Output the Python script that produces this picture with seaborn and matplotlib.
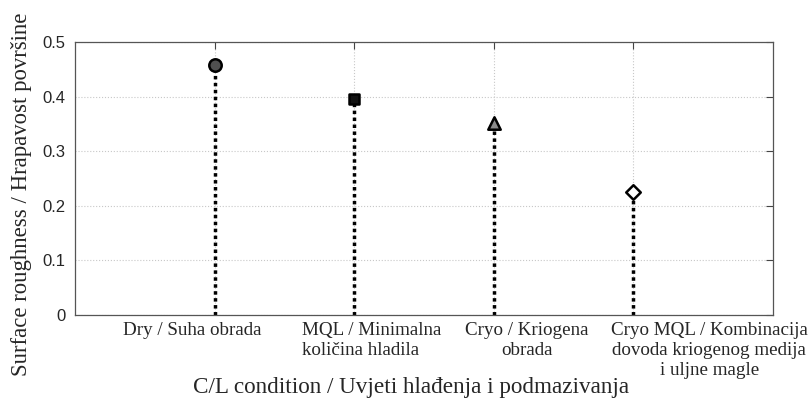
import matplotlib
matplotlib.use('Agg')
import matplotlib.pyplot as plt
import matplotlib.transforms as mtransforms
import pandas as pd
import seaborn as sns

# data
conditions = ['Dry / Suha obrada',
              'MQL / Minimalna\nkoličina hladila',
              'Cryo / Kriogena\nobrada',
              'Cryo MQL / Kombinacija\ndovoda kriogenog medija\ni uljne magle']
roughness = [0.458, 0.395, 0.352, 0.225]
positions = [1, 2, 3, 4]
y_ticks = [0, 0.1, 0.2, 0.3, 0.4, 0.5]
y_tick_labels = ['0', '0.1', '0.2', '0.3', '0.4', '0.5']

df = pd.DataFrame({'pos': positions, 'ra': roughness, 'cond': conditions})

sns.set_style('white')
plt.rcParams['font.family'] = ['Liberation Sans', 'DejaVu Sans']

fig = plt.figure(figsize=(8.12, 4.0), dpi=100)
ax = fig.add_axes([0.0924, 0.2125, 0.8596, 0.6825])

# dotted stems
ax.vlines(df['pos'], 0, df['ra'], colors='black', linestyles=(0, (1, 1)), linewidth=2.5, zorder=2)

markers = {conditions[0]: 'o', conditions[1]: 's', conditions[2]: '^', conditions[3]: 'D'}
fills = ['#505050', '#111111', '#8a8a8a', 'white']
sizes = [80, 58, 80, 55]
for i in range(len(df)):
    sns.scatterplot(x=[df['pos'][i]], y=[df['ra'][i]], marker=markers[conditions[i]],
                    s=sizes[i], color=fills[i], edgecolor='black', linewidth=1.8, ax=ax, zorder=3,
                    legend=False)

ax.set_xlim(0, 5)
ax.set_ylim(0, 0.5)
ax.set_xticks(positions)
ax.set_xticklabels(conditions, family=['Liberation Serif'], fontsize=13.7, linespacing=1.25)
ax.set_yticks(y_ticks)
ax.set_yticklabels(y_tick_labels, fontsize=12)
ax.tick_params(direction='in', length=5, width=0.8, color='#444444', top=True, right=True,
               pad=7)
ax.tick_params(axis='x', pad=5)

# the original tick labels sit off-centre from their ticks
shifts_px = [-22, 17, 33, 76]
align = ['center', 'left', 'center', 'center']
for lab, dx, ma in zip(ax.get_xticklabels(), shifts_px, align):
    lab.set_multialignment(ma)
    lab.set_transform(lab.get_transform() +
                      mtransforms.ScaledTranslation(dx / 100, 0, fig.dpi_scale_trans))

ax.grid(True, linestyle=':', color='#c8c8c8', linewidth=0.8)
for sp in ax.spines.values():
    sp.set_color('#555555')
    sp.set_linewidth(0.9)

ax.set_xlabel('C/L condition / Uvjeti hlađenja i podmazivanja', family=['Liberation Serif'],
              fontsize=16.7)
ax.xaxis.set_label_coords(0.481, -0.228)
ax.set_ylabel('Surface roughness / Hrapavost površine', family=['Liberation Serif'],
              fontsize=16.4)
ax.yaxis.set_label_coords(-0.062, 0.443)

fig.savefig('out.png', dpi=100)
